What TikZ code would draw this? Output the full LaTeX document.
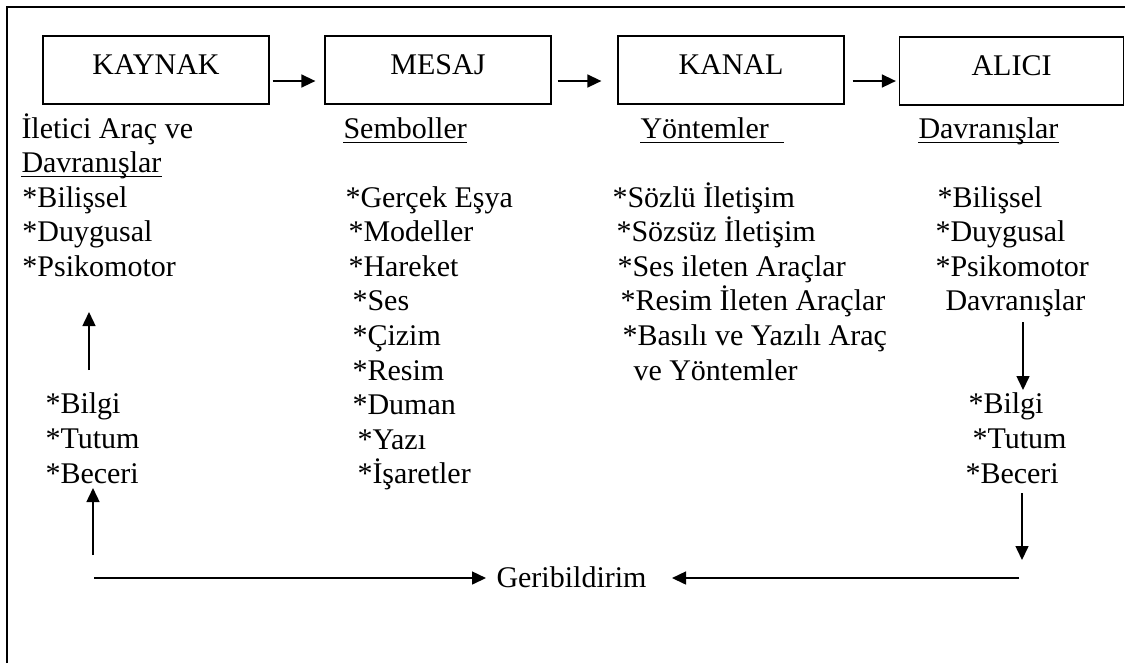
\documentclass[tikz,border=0pt]{standalone}
\usepackage{fontspec}
\setmainfont{Liberation Serif}
\usetikzlibrary{arrows.meta}
\begin{document}
\begin{tikzpicture}[x=0.4pt,y=-0.4pt,
  txt/.style={anchor=base west,inner sep=0pt,font=\fontsize{12pt}{13.9pt}\selectfont},
  box/.style={draw,line width=0.5pt,inner sep=0pt,minimum width=90.4pt,minimum height=27.2pt,
    text height=8.6pt,text depth=5.4pt,font=\fontsize{12pt}{13.9pt}\selectfont},
  arr/.style={line width=0.6pt,-{Triangle[length=5.6pt,width=5.2pt]}},
  ul/.style={line width=0.6pt},
  frame/.style={line width=0.9pt}]
\useasboundingbox (0,0) rectangle (1125,663);
% frame (left and top edges)
\coordinate (fbl) at (7,663);
\coordinate (ftl) at (7,7);
\coordinate (ftr) at (1125,7);
\draw[frame] (fbl) -- (ftl) -- (ftr);
% boxes
\node[box] (kaynak) at (156,70) {KAYNAK};
\node[box] (mesaj) at (438,70) {MESAJ};
\node[box] (kanal) at (731,70) {KANAL};
\node[box,minimum width=89.6pt] (alici) at (1011.5,71) {ALICI};
\draw[arr] ([shift={(3,11)}]kaynak.east) -- ([shift={(-9,11)}]mesaj.west);
\draw[arr] ([shift={(6,11)}]mesaj.east) -- ([shift={(-16,11)}]kanal.west);
\draw[arr] ([shift={(8,11)}]kanal.east) -- ([shift={(-3,10)}]alici.west);
% left column
\node[txt] (l1) at (21,138) {İletici Araç ve};
\node[txt] (l2) at (21,172) {Davranışlar};
\draw[ul] ([shift={(0,4.5)}]l2.base west) -- ([shift={(0,4.5)}]l2.base east);
\node[txt] (l3) at (22,207) {*Bilişsel};
\node[txt] (l4) at (22,241.6) {*Duygusal};
\node[txt] (l5) at (22,276.2) {*Psikomotor};
\node[txt] (l6) at (45,413) {*Bilgi};
\node[txt] (l7) at (45,448) {*Tutum};
\node[txt] (l8) at (45,483) {*Beceri};
% middle column
\node[txt] (m0) at (343,138) {Semboller};
\draw[ul] ([shift={(0,4.5)}]m0.base west) -- ([shift={(0,4.5)}]m0.base east);
\node[txt] (m1) at (345,207) {*Gerçek Eşya};
\node[txt] (m2) at (348,241.6) {*Modeller};
\node[txt] (m3) at (348,276.2) {*Hareket};
\node[txt] (m4) at (352,310.8) {*Ses};
\node[txt] (m5) at (352,345.4) {*Çizim};
\node[txt] (m6) at (352,380) {*Resim};
\node[txt] (m7) at (352,414.6) {*Duman};
\node[txt] (m8) at (357,449.2) {*Yazı};
\node[txt] (m9) at (357,483.8) {*İşaretler};
% kanal column
\node[txt] (k0) at (640,138) {Yöntemler};
\draw[ul] ([shift={(0,4.5)}]k0.base west) -- ([shift={(15,4.5)}]k0.base east);
\node[txt] (k1) at (612,207) {*Sözlü İletişim};
\node[txt] (k2) at (616,241.6) {*Sözsüz İletişim};
\node[txt] (k3) at (617,276.2) {*Ses ileten Araçlar};
\node[txt] (k4) at (620,310.8) {*Resim İleten Araçlar};
\node[txt] (k5) at (622,345.4) {*Basılı ve Yazılı Araç};
\node[txt] (k6) at (633,380) {ve Yöntemler};
% alici column
\node[txt] (r0) at (918,138) {Davranışlar};
\draw[ul] ([shift={(0,4.5)}]r0.base west) -- ([shift={(0,4.5)}]r0.base east);
\node[txt] (r1) at (937,207) {*Bilişsel};
\node[txt] (r2) at (935,241.6) {*Duygusal};
\node[txt] (r3) at (935,276.2) {*Psikomotor};
\node[txt] (r4) at (945,310) {Davranışlar};
\node[txt] (r5) at (968,413) {*Bilgi};
\node[txt] (r6) at (972,448) {*Tutum};
\node[txt] (r7) at (965,483) {*Beceri};
% feedback
\node[txt] (geri) at (496,587) {Geribildirim};
% arrow end points
\coordinate (a1s) at (89,370);
\coordinate (a1e) at (89,312);
\coordinate (a2s) at (93,555);
\coordinate (a2e) at (93,488);
\coordinate (a3s) at (94,578);
\coordinate (a3e) at (486,578);
\coordinate (a4s) at (1019,578);
\coordinate (a4e) at (672,578);
\coordinate (a5s) at (1022,493);
\coordinate (a5e) at (1022,560);
\coordinate (a6s) at (1023,322);
\coordinate (a6e) at (1023,390);
\draw[arr] (a1s) -- (a1e);
\draw[arr] (a2s) -- (a2e);
\draw[arr] (a3s) -- (a3e);
\draw[arr] (a4s) -- (a4e);
\draw[arr] (a5s) -- (a5e);
\draw[arr] (a6s) -- (a6e);
\end{tikzpicture}
\end{document}
